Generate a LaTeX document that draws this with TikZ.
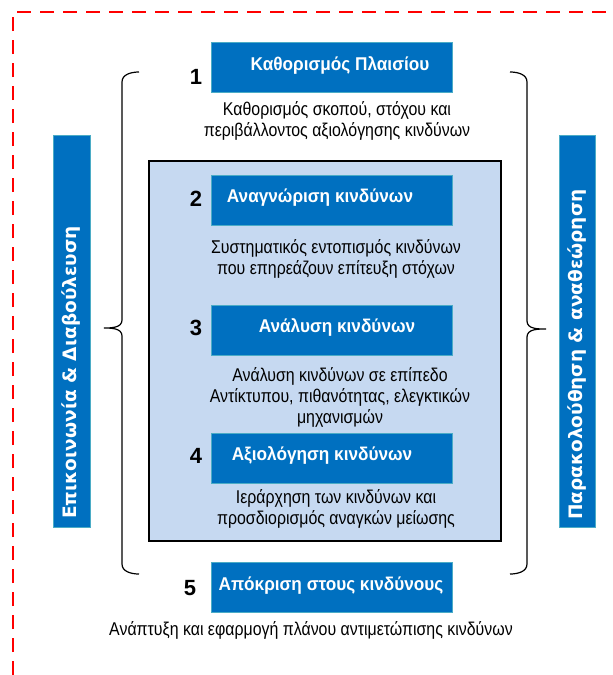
\documentclass[tikz,border=0pt]{standalone}
\usepackage{fontspec}
\setmainfont{Liberation Sans}
\newfontfamily\narrowfont[FakeStretch=0.86]{Liberation Sans}
\newfontfamily\titlefont[FakeStretch=0.93]{Liberation Sans}
\newfontfamily\sidefont{DejaVu Sans}
\usetikzlibrary{positioning}
\definecolor{boxblue}{RGB}{0,112,192}
\definecolor{boxedge}{RGB}{75,172,198}
\definecolor{panelblue}{RGB}{198,217,241}
\definecolor{dashred}{RGB}{255,0,0}
\tikzset{
    stepbox/.style={draw=boxedge, fill=boxblue, line width=0.8pt,
        minimum width=241pt, minimum height=50pt, inner sep=0pt},
    steptitle/.style={text=white, inner sep=0pt,
        font=\titlefont\bfseries\fontsize{18.5}{21}\selectfont},
    stepnum/.style={inner sep=0pt, font=\bfseries\fontsize{22}{24}\selectfont},
    stepdesc/.style={align=center, inner sep=0pt,
        font=\narrowfont\fontsize{18.5}{21}\selectfont},
    sidebox/.style={draw=boxedge, fill=boxblue, line width=0.8pt,
        minimum width=37pt, minimum height=392pt, inner sep=0pt},
    sidetext/.style={text=white, rotate=90, anchor=west, inner sep=0pt,
        font=\sidefont\bfseries\fontsize{18.5}{21}\selectfont},
    bracket/.style={line width=1.2pt, black}
}

\begin{document}
\begin{tikzpicture}[x=1pt, y=-1pt]

    \useasboundingbox (0,0) rectangle (613,675);

    % frame
    \draw[dashred, line width=2.5pt, dash pattern=on 14pt off 9pt]
    (13,675) -- (13,12) -- (613,12);

    % inner panel
    \draw[line width=1.5pt, fill=panelblue] (149,161) rectangle (501,541);

    % brackets
    \draw[bracket]
    (139,72) to [out=180, in=90] (122,82)
    -- (122,320)
    to [out=-90, in=0] (104,328)
    to [out=0, in=90] (122,336)
    -- (122,564)
    to [out=-90, in=180] (139,574);

    \draw[bracket]
    (510,72) to [out=0, in=90] (527,82)
    -- (527,321)
    to [out=-90, in=180] (546,329)
    to [out=180, in=90] (527,337)
    -- (527,564)
    to [out=-90, in=0] (510,574);

    % side boxes
    \node[sidebox] (comm) at (71.5,331) {};
    \node[sidetext] (commtext) at (71.5,519) {Επικοινωνία \& Διαβούλευση};
    \node[sidebox, minimum width=36pt] (monit) at (577,331) {};
    \node[sidetext] (monittext) at (577,520) {Παρακολούθηση \& αναθεώρηση};

    % steps
    \node[stepbox] (box1) at (332,67) {};
    \node[steptitle] (title1) at (340,65) {Καθορισμός Πλαισίου};
    \node[stepnum] (num1) at (196,77) {1};
    \node[stepdesc] (desc1) at (337,121)
    {Καθορισμός σκοπού, στόχου και\\περιβάλλοντος αξιολόγησης κινδύνων};

    \node[stepbox] (box2) at (332,200) {};
    \node[steptitle] (title2) at (320,198) {Αναγνώριση κινδύνων};
    \node[stepnum] (num2) at (196,199) {2};
    \node[stepdesc] (desc2) at (336,259)
    {Συστηματικός εντοπισμός κινδύνων\\που επηρεάζουν επίτευξη στόχων};

    \node[stepbox] (box3) at (332,330) {};
    \node[steptitle] (title3) at (337,327) {Ανάλυση κινδύνων};
    \node[stepnum] (num3) at (196,328) {3};
    \node[stepdesc] (desc3) at (340,397)
    {Ανάλυση κινδύνων σε επίπεδο\\Αντίκτυπου, πιθανότητας, ελεγκτικών\\μηχανισμών};

    \node[stepbox] (box4) at (332,458) {};
    \node[steptitle] (title4) at (322,455) {Αξιολόγηση κινδύνων};
    \node[stepnum] (num4) at (196,456) {4};
    \node[stepdesc] (desc4) at (336,509)
    {Ιεράρχηση των κινδύνων και\\προσδιορισμός αναγκών μείωσης};

    \node[stepbox] (box5) at (332,587) {};
    \node[steptitle] (title5) at (331,586) {Απόκριση στους κινδύνους};
    \node[stepnum] (num5) at (190,588) {5};
    \node[stepdesc] (desc5) at (311,630)
    {Ανάπτυξη και εφαρμογή πλάνου αντιμετώπισης κινδύνων};

\end{tikzpicture}
\end{document}
